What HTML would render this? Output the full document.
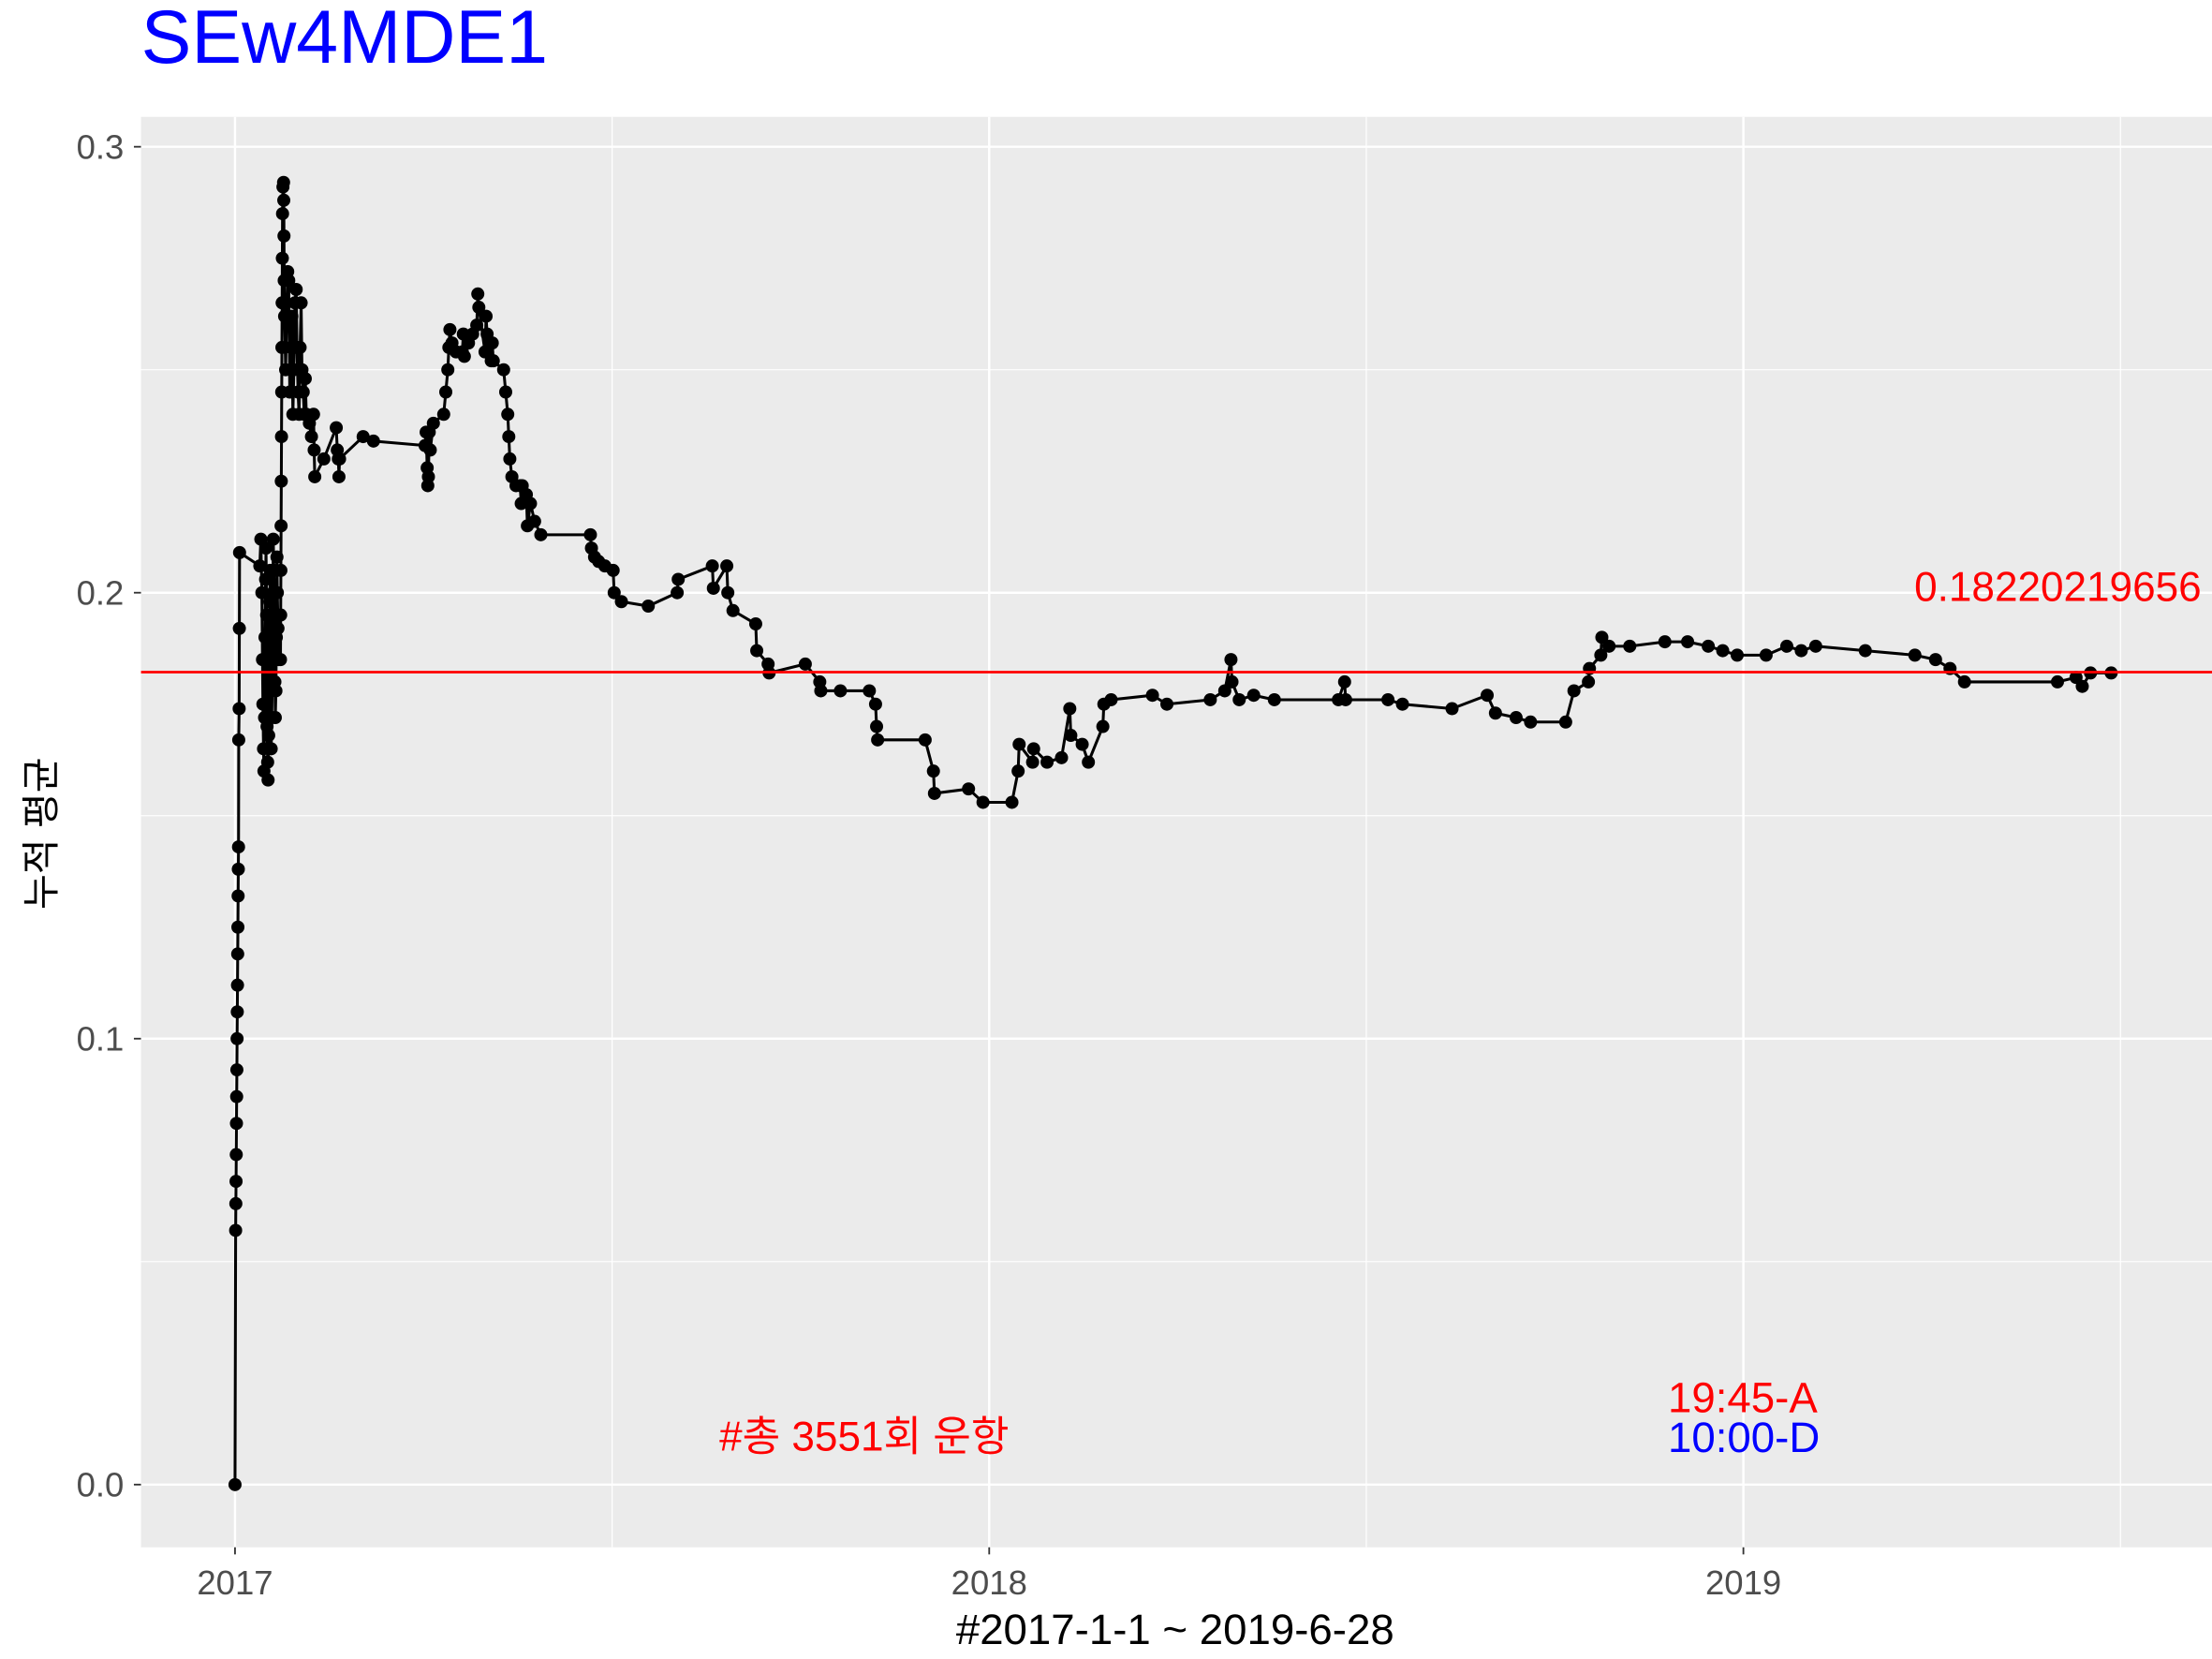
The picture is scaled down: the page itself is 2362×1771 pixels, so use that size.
<!DOCTYPE html>
<html><head><meta charset="utf-8"><style>html,body{margin:0;padding:0;background:#fff}svg{display:block}</style></head>
<body>
<svg id="chart" width="2362" height="1771" viewBox="0 0 1553 1164.4" xmlns="http://www.w3.org/2000/svg" font-family="'Liberation Sans','Noto Sans CJK KR',sans-serif">
<text x="99" y="44" font-size="53" fill="#0000ff">SEw4MDE1</text>
<rect x="99" y="82" width="1454" height="1004" fill="#ebebeb"/>
<g id="grid"></g>
<g id="axes"></g>
<g id="series"></g>
<text transform="translate(38,585) rotate(-90)" text-anchor="middle" font-size="27" fill="#000">누적 평균</text>
<text x="825" y="1154" text-anchor="middle" font-size="30" fill="#000">#2017-1-1 ~ 2019-6-28</text>
<text x="505" y="1018" font-size="29" fill="#ff0000">#총 3551회 운항</text>
<text x="1171" y="991" font-size="30" fill="#ff0000">19:45-A</text>
<text x="1171" y="1019" font-size="30" fill="#0000ff">10:00-D</text>
</svg>
<script>
const days = [0,0.3,0.4,0.5,0.6,0.7,0.8,0.9,1.0,1.1,1.2,1.3,1.4,1.5,1.6,1.7,1.8,2,2.1,2.2,
12,12.5,13,13.3,13.5,13.8,14,14.3,14.5,14.8,15,15.3,15.5,15.8,16,16.3,16.5,16.8,17,17.3,17.5,17.8,18,18.3,18.5,18.8,19,19.3,19.5,19.8,20,20.3,20.5,20.8,21,
22,22.1,22.2,22.3,22.4,22.5,22.6,22.7,22.8,22.9,23,23.2,23.5,23.6,23.7,23.8,24,
24.5,25,25.5,26,26.5,27,27.5,28,28.5,29,29.6,30,30.5,31,31.5,32,32.4,33,33.5,34,34.5,
36,37,38,38.3,38.6,43,49,49.5,50,50.3,50.6,62,67,92,92.5,93,93.3,93.6,94,94.5,96,
101,102,103,103.5,104,105,107,110,110.5,111,113,115,117,117.5,118,121,121.5,122,124,124.5,125,
130,131,132,132.5,133,134,136,138,138.5,139,141,141.5,143,145,148,
172,172.5,174,176,179,183,183.5,187,200,214,214.5,231,231.5,238,238.5,241,
252,252.5,258,258.5,276,283,283.5,293,307,310,310.5,311,334,338,338.5,355,362,376,379,379.5,386,386.5,393,400,404,404.5,410,413,420,420.5,424,444,451,472,479,482,482.5,486,493,503,534,537,537.5,558,565,589,606,610,620,627,644,648,655,655.5,661,661.5,665,675,692,703,713,720,727,741,751,758,765,789,813,823,830,837,882,891,894,898,908];
const values = [0,0.057,0.063,0.068,0.074,0.081,0.087,0.093,0.100,0.106,0.112,0.119,0.125,0.132,0.138,0.143,0.167,0.174,0.192,0.209,
0.206,0.212,0.200,0.185,0.175,0.165,0.160,0.172,0.190,0.203,0.210,0.195,0.170,0.162,0.158,0.168,0.185,0.198,0.205,0.190,0.165,0.172,0.180,0.200,0.212,0.205,0.195,0.180,0.172,0.178,0.190,0.208,0.200,0.192,0.185,
0.185,0.195,0.205,0.215,0.225,0.235,0.245,0.255,0.265,0.275,0.285,0.291,0.292,0.288,0.280,0.270,0.262,
0.250,0.262,0.272,0.270,0.245,0.255,0.262,0.240,0.250,0.265,0.268,0.255,0.245,0.240,0.255,0.265,0.250,0.245,0.240,0.248,0.240,
0.238,0.235,0.240,0.232,0.226,0.230,0.237,0.232,0.230,0.226,0.230,0.235,0.234,0.233,0.236,0.228,0.224,0.226,0.236,0.232,0.238,
0.240,0.245,0.250,0.255,0.259,0.256,0.254,0.254,0.258,0.253,0.256,0.258,0.260,0.267,0.264,0.254,0.262,0.258,0.252,0.256,0.252,
0.250,0.245,0.240,0.235,0.230,0.226,0.224,0.224,0.220,0.224,0.222,0.215,0.220,0.216,0.213,
0.213,0.210,0.208,0.207,0.206,0.205,0.200,0.198,0.197,0.200,0.203,0.206,0.201,0.206,0.200,0.196,
0.193,0.187,0.184,0.182,0.184,0.180,0.178,0.178,0.178,0.175,0.170,0.167,0.167,0.160,0.155,0.156,0.153,0.153,0.160,0.166,0.162,0.165,0.162,0.163,0.174,0.168,0.166,0.162,0.170,0.175,0.176,0.177,0.175,0.176,0.178,0.185,0.180,0.176,0.177,0.176,0.176,0.180,0.176,0.176,0.175,0.174,0.177,0.173,0.172,0.171,0.171,0.178,0.180,0.183,0.186,0.190,0.188,0.188,0.189,0.189,0.188,0.187,0.186,0.186,0.188,0.187,0.188,0.187,0.186,0.185,0.183,0.180,0.180,0.181,0.179,0.182,0.182];
const meanValue = 0.18220219656;
const yTicks = [0.0,0.1,0.2,0.3];
const yTickLabels = ["0.0","0.1","0.2","0.3"];
const yMinor = [0.05,0.15,0.25];
const xTicks = [0,365,730];
const xTickLabels = ["2017","2018","2019"];
const xMinor = [182.5,547.5,912.5];

const NS = 'http://www.w3.org/2000/svg';
const X0 = 165, PXDAY = 529.5/365;
const Y0 = 1042, PXVAL = 3130;
function xs(d){return X0 + d*PXDAY;}
function ys(v){return Y0 - v*PXVAL;}
function mk(tag, attrs, parent){const e=document.createElementNS(NS,tag);for(const k in attrs)e.setAttribute(k,attrs[k]);parent.appendChild(e);return e;}
const grid=document.getElementById('grid'), axes=document.getElementById('axes'), series=document.getElementById('series');

yMinor.forEach(v=>{const l=mk('line',{x1:99,x2:1553,y1:ys(v),y2:ys(v),stroke:'#fff','stroke-width':0.8},grid);

});
xMinor.forEach(d=>{const l=mk('line',{x1:xs(d),x2:xs(d),y1:82,y2:1086,stroke:'#fff','stroke-width':0.8},grid);

});
yTicks.forEach((v,i)=>{const l=mk('line',{x1:99,x2:1553,y1:ys(v),y2:ys(v),stroke:'#fff','stroke-width':1.6},grid);


const t=mk('line',{x1:94,x2:99,y1:ys(v),y2:ys(v),stroke:'#333','stroke-width':1.2},axes);


const tx=mk('text',{x:87,y:ys(v)+8.5,'text-anchor':'end','font-size':24,fill:'#4d4d4d'},axes);
tx.textContent=yTickLabels[i];

});
xTicks.forEach((d,i)=>{const l=mk('line',{x1:xs(d),x2:xs(d),y1:82,y2:1086,stroke:'#fff','stroke-width':1.6},grid);


const t=mk('line',{x1:xs(d),x2:xs(d),y1:1086,y2:1091,stroke:'#333','stroke-width':1.2},axes);


const tx=mk('text',{x:xs(d),y:1119,'text-anchor':'middle','font-size':24,fill:'#4d4d4d'},axes);
tx.textContent=xTickLabels[i];

});

const pts=days.map((d,i)=>xs(d).toFixed(2)+','+ys(values[i]).toFixed(2)).join(' ');
const pl=mk('polyline',{points:pts,fill:'none',stroke:'#000','stroke-width':2},series);


days.forEach((d,i)=>{const c=mk('circle',{cx:xs(d),cy:ys(values[i]),r:4.6,fill:'#000'},series);

});
const ml=mk('line',{x1:99,x2:1553,y1:ys(meanValue),y2:ys(meanValue),stroke:'#ff0000','stroke-width':1.8},series);


const mt=mk('text',{x:1344,y:ys(meanValue)-50,'font-size':29,fill:'#ff0000'},series);
mt.textContent=String(meanValue);


</script>
</body></html>
